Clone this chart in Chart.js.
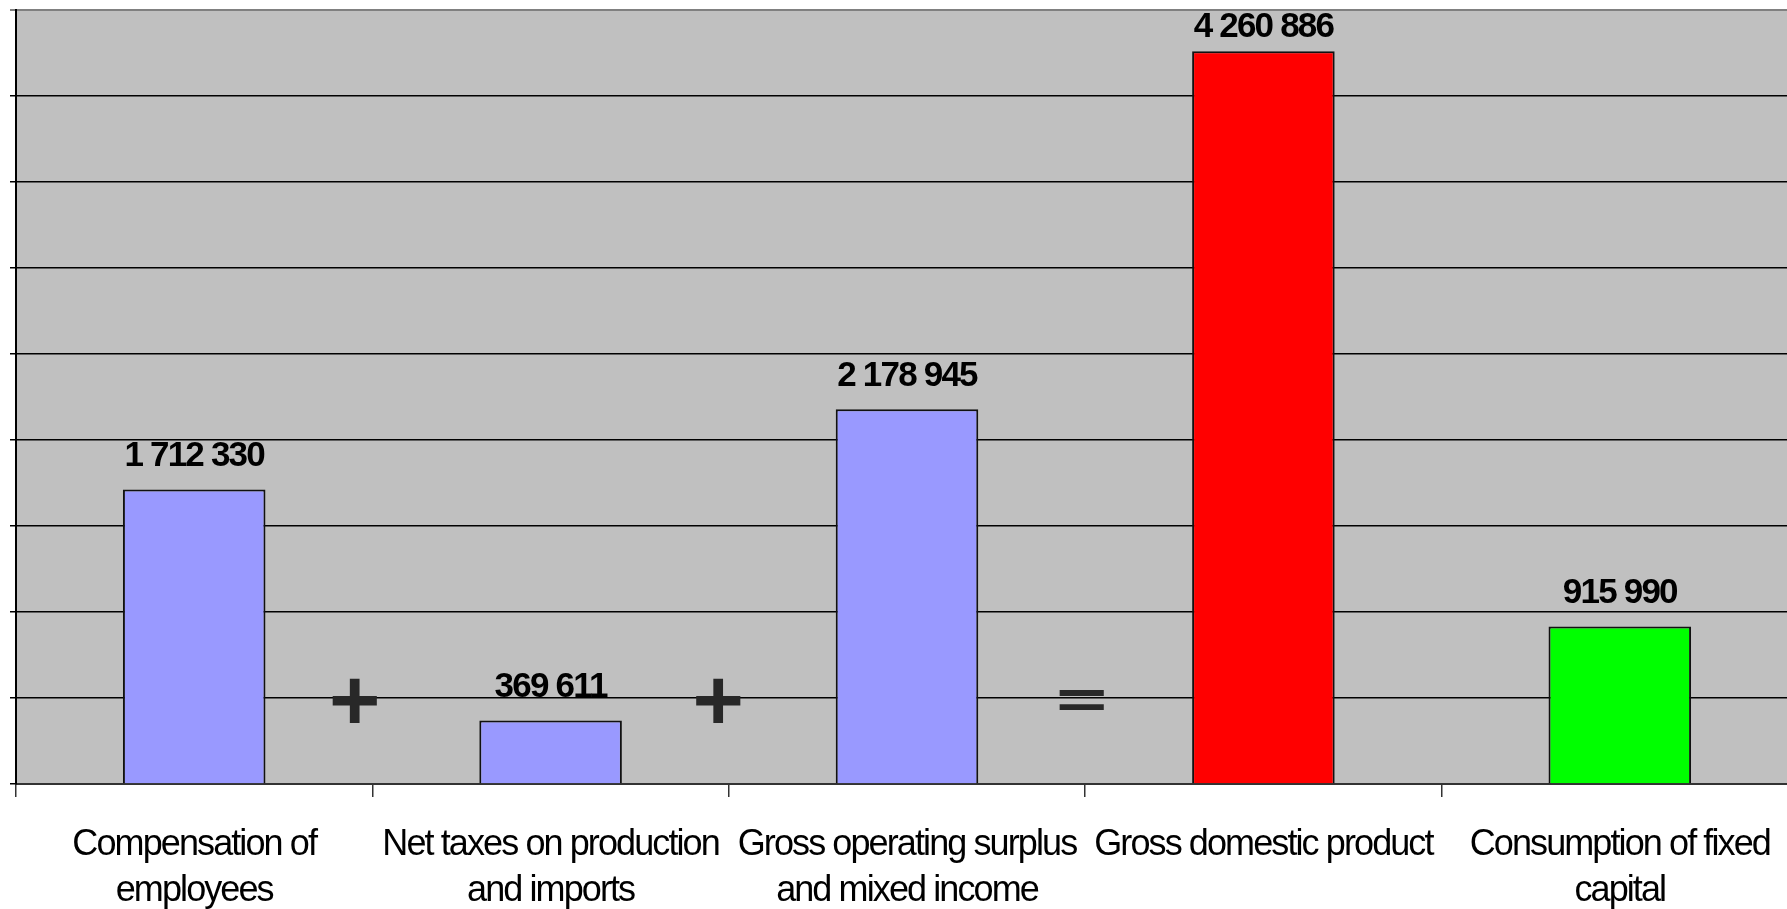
<!DOCTYPE html>
<html>
<head>
<meta charset="utf-8">
<title>GDP by income approach</title>
<script src="https://cdn.jsdelivr.net/npm/chart.js@4/dist/chart.umd.min.js"></script>
<style>
  html, body { margin: 0; padding: 0; background: #fff; overflow: hidden; }
  #wrap { width: 1787px; height: 909px; overflow: hidden; }
</style>
</head>
<body>
<div id="wrap"><canvas id="gdp" width="1800" height="909"></canvas></div>
<script>
  const categories = [
    ['Compensation of', 'employees'],
    ['Net taxes on production', 'and imports'],
    ['Gross operating surplus', 'and mixed income'],
    'Gross domestic product',
    ['Consumption of fixed', 'capital'],
  ];
  const values = [1712330, 369611, 2178945, 4260886, 915990];
  const barColors = ['#9999ff', '#9999ff', '#9999ff', '#ff0000', '#00ff00'];
  const yMax = 4500000;
  const yStep = 500000;

  // "+ + =" signs placed between the bars (x in category index units, y in value units)
  const operators = ['+', '+', '='];
  const operatorX = [0.45, 1.47, 2.49];
  const operatorY = [455000, 455000, 470000];

  const FONT = "'Liberation Sans', Arial, sans-serif";

  const fmt = (v) => String(v).replace(/\B(?=(\d{3})+(?!\d))/g, ' ');

  const plotBackground = {
    id: 'plotBackground',
    beforeDraw(chart) {
      const { ctx, chartArea: a } = chart;
      ctx.save();
      ctx.fillStyle = '#c0c0c0';
      ctx.fillRect(a.left, a.top, a.right - a.left, a.bottom - a.top);
      ctx.restore();
      // tighter tracking for the axis labels
      ctx.letterSpacing = '-1.9px';
    },
  };

  const barLabels = {
    id: 'barLabels',
    afterDatasetsDraw(chart) {
      const { ctx, chartArea: a } = chart;
      const meta = chart.getDatasetMeta(0);
      ctx.save();
      ctx.font = `bold 35px ${FONT}`;
      ctx.letterSpacing = '-1.8px';
      ctx.fillStyle = '#000';
      ctx.textAlign = 'center';
      ctx.textBaseline = 'alphabetic';
      meta.data.forEach((bar, i) => {
        const y = Math.max(bar.y - 23, a.top + 27);
        ctx.fillText(fmt(values[i]), bar.x, y);
      });

      const xs = chart.scales.x;
      const ys = chart.scales.y;
      ctx.font = `bold 88px ${FONT}`;
      ctx.letterSpacing = '0px';
      ctx.fillStyle = '#282828';
      ctx.textBaseline = 'middle';
      operators.forEach((op, i) => {
        const px = xs.getPixelForValue(operatorX[i]);
        const py = ys.getPixelForValue(operatorY[i]);
        const sy = op === '=' ? 0.62 : 1;
        ctx.save();
        ctx.translate(px, py);
        ctx.scale(1, sy);
        ctx.fillText(op, 0, 0);
        ctx.restore();
      });
      ctx.restore();
    },
  };

  new Chart(document.getElementById('gdp'), {
    type: 'bar',
    data: {
      labels: categories,
      datasets: [{
        data: values,
        backgroundColor: barColors,
        borderColor: '#111',
        borderWidth: 2,
        barPercentage: 0.4,
        categoryPercentage: 1,
      }],
    },
    options: {
      responsive: false,
      animation: false,
      // canvas is a little wider than the page, so the plot runs off the right edge
      layout: { padding: { top: 10, right: 2, left: 0, bottom: 0 } },
      plugins: { legend: { display: false }, tooltip: { enabled: false } },
      scales: {
        x: {
          grid: { offset: true, drawOnChartArea: false, drawTicks: true, tickLength: 13, color: '#333', lineWidth: 1.5 },
          border: { color: '#333', width: 2 },
          ticks: {
            autoSkip: false,
            maxRotation: 0,
            minRotation: 0,
            padding: 25,
            color: '#000',
            font: { family: FONT, size: 36, lineHeight: 1.27 },
          },
          afterFit(s) {
            s.height = 125;
            s.paddingLeft = 0;
            s.paddingRight = 0;
          },
        },
        y: {
          min: 0,
          max: yMax,
          ticks: { display: false, stepSize: yStep },
          grid: {
            color: (c) => (c.tick && c.tick.value === yMax ? '#808080' : '#000'),
            lineWidth: (c) => (c.tick && c.tick.value === yMax ? 2 : 1.5),
            tickLength: 6,
          },
          border: { color: '#000', width: 2 },
          afterFit(s) { s.width = 16; },
        },
      },
    },
    plugins: [plotBackground, barLabels],
  });
</script>
</body>
</html>
